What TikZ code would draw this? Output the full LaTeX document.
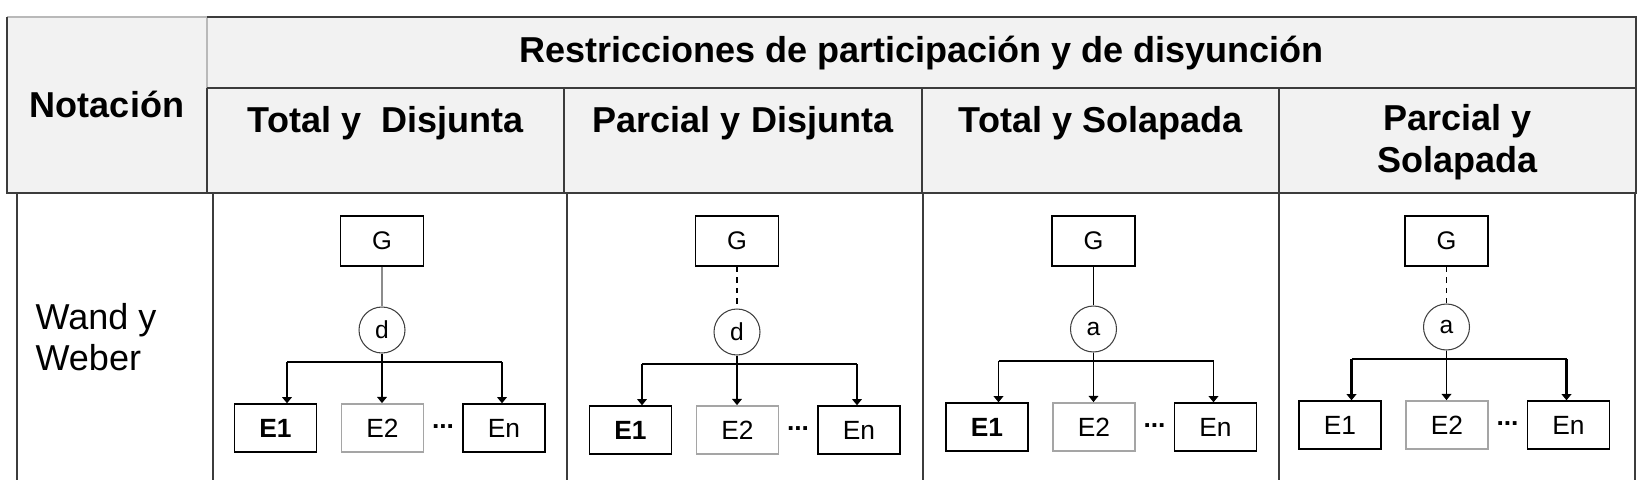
\documentclass[tikz,border=0pt]{standalone}
\usepackage{fontspec}
\setmainfont{Liberation Sans}
\usepackage{tikz}
\usetikzlibrary{
	arrows.meta,
	calc,
	positioning
}
\definecolor{HeadGray}{RGB}{242,242,242}
\definecolor{RuleGray}{RGB}{60,60,60}
\definecolor{LightRule}{RGB}{185,185,185}
\definecolor{FaintBox}{RGB}{165,165,165}

\tikzset{
	hdr/.style={font=\bfseries\fontsize{20.5}{23.9}\selectfont, inner sep=0pt},
	rule/.style={draw=RuleGray, line width=1.1pt},
	cls/.style={draw=black, line width=0.8pt, minimum width=1.64cm, minimum height=0.96cm, inner sep=0pt},
	restr/.style={circle, draw=black!75, line width=0.6pt, minimum size=0.92cm, inner sep=0pt, font=\fontsize{14}{16}\selectfont},
	lnkgray/.style={draw=black!45},
	tip/.style={-{Triangle[width=5.5pt,length=3.5pt]}}
}

\begin{document}
\begin{tikzpicture}[x=0.02cm, y=-0.02cm, line width=0.7pt]
		\useasboundingbox (0,0) rectangle (1647,480);
		% header
		\fill[HeadGray] (7,17) rectangle (1636,193);
		\draw[rule, LightRule] (7,17) -- (207,17) -- (207,88);
		\draw[rule] (207,17) -- (1636,17) -- (1636,193) -- (7,193) -- (7,17);
		\draw[rule] (207,88) -- (1636,88);
		\draw[rule] (207,88) -- (207,193);
		\draw[rule] (564,88) -- (564,193);
		\draw[rule] (922,88) -- (922,193);
		\draw[rule] (1279,88) -- (1279,193);
		% body, open at the bottom
		\foreach \x in {17,213,567,923,1279,1635}
			\draw[rule, line width=0.8pt] (\x,193) -- (\x,480);
		
		\node[hdr, anchor=base] (restr) at (921.5,62) {Restricciones de participación y de disyunción};
		\node[hdr, anchor=base] (notac) at (107,117) {Notación};
		\node[hdr, anchor=base] (totdis) at (385.5,132) {Total y\ \ Disjunta};
		\node[hdr, anchor=base] (pardis) at (743,132) {Parcial y Disjunta};
		\node[hdr, anchor=base] (totsol) at (1100.5,132) {Total y Solapada};
		\node[hdr, anchor=base, align=center] (parsol) at (1457.5,172) {Parcial y\\Solapada};
		\node[anchor=base west, align=left, inner sep=0pt, font=\fontsize{20.5}{22.8}\selectfont] (wand) at (35,370) {Wand y\\Weber};
		
		% one generalization per column: G, constraint circle, E1 E2 ... En
		\foreach \i/\cx/\dy/\lnk/\lt/\eone/\bw in {
			1/382/0/lnkgray/d/\bfseries/0.7pt,
			2/737/2/dashed/d/\bfseries/0.7pt,
			3/1093.5/-1/solid/a/\bfseries/0.8pt,
			4/1446.5/-3/dashed/a/\relax/1.3pt}
		{
			\node[cls, minimum width=1.66cm, minimum height=1cm, font=\fontsize{14.5}{16}\selectfont] (G\i) at (\cx,241) {G};
			\node[restr] (C\i) at (\cx,330+\dy) {\lt};
			\node[cls, font=\fontsize{15}{17}\selectfont\eone] (E1\i) at (\cx-106.5,428+\dy) {E1};
			\node[cls, draw=FaintBox, line width=1pt, font=\fontsize{15}{17}\selectfont] (E2\i) at (\cx+0.5,428+\dy) {E2};
			\node[cls, font=\fontsize{15}{17}\selectfont] (En\i) at (\cx+122,428+\dy) {En};
			\node[font=\bfseries\fontsize{15}{17}\selectfont, inner sep=0pt] (dots\i) at (\cx+61,427+\dy) {...};
			\coordinate (L\i) at (\cx-95,362+\dy);
			\coordinate (R\i) at (\cx+120,362+\dy);
			
			\draw[\lnk] (G\i) -- (C\i);
			\draw[line width=\bw] (L\i) -- (R\i);
			\draw[tip] (C\i.south) -- (C\i.south |- E2\i.north);
			\draw[tip, line width=\bw] (L\i) -- (L\i |- E1\i.north);
			\draw[tip, line width=\bw] (R\i) -- (R\i |- En\i.north);
		}
	\end{tikzpicture}
\end{document}
